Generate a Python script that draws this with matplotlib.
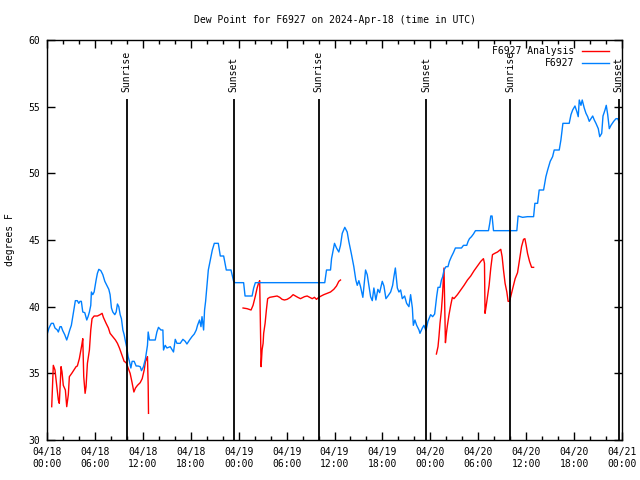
"""
Dew point chart for station F6927, 2024-04-18 .. 2024-04-21 (UTC)
Station observations vs analysis, with sunrise / sunset markers.
"""

import numpy as np
import pandas as pd
import matplotlib
matplotlib.use('Agg')
import matplotlib.pyplot as plt
from matplotlib.lines import Line2D

# font close to the gnuplot default look
plt.rcParams['font.family'] = ['DejaVu Sans Mono']
plt.rcParams['font.size'] = 7

START = pd.Timestamp('2024-04-18 00:00')

# ---- data (hours after 04/18 00:00 UTC, degrees F) ----
# F6927 observations
obs_hours = [
    0.0, 0.25, 0.54, 0.79, 1.0, 1.29, 1.42, 1.63, 1.79, 1.97, 2.22, 2.47, 2.63,
    2.85, 3.05, 3.30, 3.55, 3.80, 3.98, 4.14, 4.30, 4.48, 4.73, 4.98, 5.14, 5.31,
    5.48, 5.56, 5.73, 5.90, 6.15, 6.31, 6.49, 6.74, 6.99, 7.24, 7.49, 7.74, 7.90,
    8.07, 8.24, 8.49, 8.66, 8.82, 8.99, 9.16, 9.32, 9.50, 9.66, 9.82, 10.0, 10.16,
    10.32, 10.50, 10.66, 10.91, 11.16, 11.41, 11.67, 11.83, 12.08, 12.33, 12.58,
    12.67, 12.83, 13.26, 13.55, 13.76, 13.96, 14.26, 14.51, 14.59, 14.80, 15.02,
    15.43, 15.84, 16.06, 16.27, 16.68, 17.02, 17.31, 17.52, 17.85, 18.15, 18.44,
    18.69, 18.85, 19.10, 19.28, 19.41, 19.61, 19.73, 19.86, 20.03, 20.20, 20.45,
    20.70, 20.95, 21.45, 21.70, 22.12, 22.45, 23.04, 23.37, 23.55, 24.62, 24.80,
    25.68, 25.88, 26.09, 34.78, 35.0, 35.50, 35.63, 36.0, 36.25, 36.54, 36.75,
    36.97, 37.29, 37.59, 37.79, 38.10, 38.42, 38.67, 38.85, 39.05, 39.26, 39.55,
    39.89, 40.10, 40.30, 40.52, 40.73, 40.93, 41.18, 41.43, 41.65, 41.98, 42.19,
    42.44, 42.69, 43.03, 43.28, 43.44, 43.62, 43.87, 44.07, 44.28, 44.49, 44.78,
    45.03, 45.32, 45.53, 45.75, 45.87, 46.07, 46.29, 46.58, 46.70, 47.0, 47.20,
    47.45, 47.70, 48.04, 48.29, 48.54, 48.80, 48.96, 49.21, 49.39, 49.55, 49.71,
    49.96, 50.21, 50.39, 50.64, 50.89, 51.14, 51.90, 52.15, 52.56, 52.73, 52.90,
    53.15, 53.40, 53.65, 55.28, 55.44, 55.57, 55.73, 55.91, 58.83, 58.99, 59.55,
    60.17, 60.93, 61.09, 61.43, 61.63, 62.18, 62.47, 62.69, 63.01, 63.31, 63.51,
    64.14, 64.35, 64.60, 65.39, 65.61, 65.82, 66.11, 66.36, 66.52, 66.65, 66.86,
    67.02, 67.27, 67.49, 67.70, 67.90, 68.11, 68.33, 68.53, 68.74, 69.03, 69.21,
    69.46, 69.62, 69.87, 70.03, 70.21, 70.41, 70.62, 70.96, 71.25, 71.47, 71.67,
]
obs_dewpt = [
    37.9, 38.4, 38.75, 38.75, 38.4, 38.25, 38.1, 38.5, 38.5, 38.2, 37.9, 37.5, 37.8,
    38.25, 38.6, 39.5, 40.45, 40.45, 40.25, 40.4, 40.4, 39.6, 39.55, 39.0, 39.25, 39.6,
    40.1, 41.1, 40.9, 41.1, 42.0, 42.5, 42.8, 42.7, 42.4, 41.9, 41.6, 41.3, 40.9,
    39.9, 39.6, 39.4, 39.6, 40.2, 40.0, 39.4, 39.1, 38.25, 37.9, 37.4, 36.9, 36.25,
    35.9, 35.4, 35.9, 35.9, 35.55, 35.55, 35.5, 35.2, 35.5, 36.1, 37.1,
    38.1, 37.5, 37.5, 37.5, 38.1, 38.45, 38.25, 38.25, 36.75, 37.1, 36.9,
    37.0, 36.6, 37.55, 37.25, 37.25, 37.55, 37.4, 37.2, 37.5, 37.75, 37.95,
    38.25, 38.6, 39.0, 38.5, 39.25, 38.25, 39.75, 40.4, 41.6, 42.75, 43.5,
    44.25, 44.75, 44.75, 43.8, 43.8, 42.75, 42.75, 41.9, 41.8, 41.8, 40.8,
    40.8, 41.4, 41.8, 41.8, 42.75, 42.75, 43.6, 44.75, 44.4, 44.1, 44.6,
    45.5, 45.95, 45.6, 44.9, 44.0, 43.0, 42.0, 41.6, 41.95, 41.5, 40.7,
    42.75, 42.4, 41.6, 40.75, 40.45, 41.4, 40.5, 41.3, 41.05, 41.9, 41.55,
    40.6, 40.8, 41.1, 41.6, 42.25, 42.9, 41.4, 41.1, 41.25, 40.6, 40.8,
    40.25, 40.0, 40.9, 39.9, 38.6, 39.0, 38.6, 38.25, 38.0, 38.4, 38.6,
    38.2, 38.9, 39.4, 39.25, 39.45, 40.8, 41.45, 41.45, 42.0, 42.25, 42.75,
    43.0, 43.0, 43.4, 43.75, 44.05, 44.4, 44.4, 44.6, 44.6, 44.9, 45.1,
    45.25, 45.45, 45.7, 45.7, 46.25, 46.8, 46.8, 45.7, 45.7, 46.8, 46.7,
    46.75, 46.75, 47.75, 47.75, 48.75, 48.75, 49.75, 50.25, 50.9, 51.25, 51.75,
    51.75, 52.5, 53.75, 53.75, 54.4, 54.75, 55.05, 54.6, 54.25, 55.5, 55.1,
    55.5, 54.9, 54.5, 54.25, 53.9, 54.1, 54.3, 54.0, 53.75, 53.35, 52.75,
    53.0, 54.3, 54.75, 55.1, 54.4, 53.35, 53.6, 53.9, 54.1, 54.1, 53.8,
]

# F6927 analysis (nan = gap in the series)
ana_hours = [
    0.59, 0.79, 1.0, 1.42, 1.54, 1.76, 1.88, 2.04, 2.30, 2.47, 2.67, 2.80, 3.10,
    3.42, 3.64, 3.80, 4.05, 4.35, 4.48, 4.60, 4.77, 4.89, 5.06, 5.31, 5.48, 5.64,
    5.90, 6.31, 6.65, 6.90, 7.06, 7.40, 7.69, 7.90, 8.24, 8.57, 8.82, 9.07, 9.37,
    9.66, 9.91, 10.16, 10.41, 10.62, 10.88, 11.08, 11.33, 11.67, 11.92, 12.17,
    12.33, 12.51, 12.58, 12.67, 12.71,
    18.0,
    24.55, 25.05, 25.55, 25.80, 26.09, 26.31, 26.51, 26.63, 26.72, 26.81, 26.93,
    27.06, 27.13, 27.31, 27.47, 27.63, 27.89, 28.39, 28.81, 29.14, 29.44, 29.73,
    30.07, 30.48, 30.82, 31.11, 31.40, 31.74, 32.24, 32.58, 32.90, 33.21, 33.49,
    33.74, 34.03, 34.33, 34.66, 35.09, 35.50, 35.91, 36.25, 36.54, 36.75,
    42.0,
    48.76, 48.96, 49.08, 49.21, 49.39, 49.51, 49.64, 49.71, 49.80, 49.89, 50.01,
    50.14, 50.34, 50.55, 50.76, 50.96, 51.39, 51.81, 52.22, 52.65, 53.06, 53.48,
    53.90, 54.32, 54.65, 54.78, 54.85, 54.98, 55.16, 55.36, 55.57, 55.78, 56.07,
    56.41, 56.82, 56.99, 57.16, 57.36, 57.58, 57.74, 57.92, 58.08, 58.33, 58.62,
    58.92, 59.17, 59.42, 59.67, 59.84, 60.0, 60.17, 60.42, 60.68, 60.93,
]
ana_dewpt = [
    32.5, 35.6, 35.25, 33.0, 32.75, 35.5, 35.1, 34.1, 33.75, 32.5, 33.4, 34.75, 35.0,
    35.3, 35.5, 35.55, 36.1, 37.1, 37.6, 34.75, 33.5, 34.0, 35.75, 36.75, 38.25, 39.1,
    39.3, 39.3, 39.4, 39.5, 39.2, 38.75, 38.4, 38.0, 37.75, 37.5, 37.25, 36.9, 36.4,
    35.9, 35.8, 35.4, 35.0, 34.4, 33.6, 33.9, 34.1, 34.3, 34.6, 35.25,
    35.9, 36.1, 36.25, 34.1, 32.0,
    np.nan,
    39.9, 39.85, 39.75, 40.1, 40.8, 41.4, 41.8, 41.95, 38.75, 35.5, 36.75,
    37.25, 38.0, 38.75, 39.75, 40.6, 40.7, 40.75, 40.8, 40.7, 40.55, 40.5,
    40.55, 40.7, 40.9, 40.8, 40.7, 40.6, 40.75, 40.8, 40.7, 40.6, 40.7,
    40.55, 40.7, 40.8, 40.9, 41.0, 41.1, 41.3, 41.55, 41.9, 42.0,
    np.nan,
    36.45, 37.0, 37.75, 38.75, 39.75, 40.75, 42.25, 42.9, 40.0, 37.3, 38.0,
    38.6, 39.4, 40.1, 40.7, 40.6, 40.9, 41.25, 41.6, 42.0, 42.3, 42.7,
    43.05, 43.4, 43.6, 43.25, 39.5, 40.0, 40.75, 41.6, 42.9, 43.9, 44.0,
    44.1, 44.3, 43.75, 42.75, 41.75, 41.1, 40.4, 40.4, 40.8, 41.4, 42.1,
    42.55, 43.5, 44.5, 45.05, 45.1, 44.6, 44.0, 43.4, 42.95, 42.95,
]

# sunrise / sunset times (hours after start)
sun_hours = [9.97, 23.37, 34.03, 47.45, 57.99, 71.59]
sun_labels = ['Sunrise', 'Sunset', 'Sunrise', 'Sunset', 'Sunrise', 'Sunset']

# x tick labels every 6 hours
tick_hours = list(range(0, 73, 6))


def to_time(hours):
    return START + pd.to_timedelta(np.asarray(hours, dtype=float), unit='h')


fig = plt.figure(figsize=(6.4, 4.8), dpi=100)
ax = fig.add_axes([47 / 640, 40 / 480, 575 / 640, 400 / 480])

# series
ax.plot(to_time(ana_hours), ana_dewpt, color='#ff0000', lw=1.0)
ax.plot(to_time(obs_hours), obs_dewpt, color='#0080ff', lw=1.0)

# sunrise / sunset markers
for h, lab in zip(sun_hours, sun_labels):
    t = to_time([h])[0]
    ax.vlines(t, 30, 55.6, color='black', lw=1.3)
    ax.text(t, 56.1, lab, rotation=90, ha='center', va='bottom')

# axes, ticks
ax.set_xlim(START, START + pd.Timedelta(hours=72))
ax.set_ylim(30, 60)
ax.set_xticks(to_time(tick_hours))
ax.set_xticklabels([t.strftime('%m/%d\n%H:%M') for t in to_time(tick_hours)],
                   linespacing=1.3)
ax.set_xticks(to_time(range(0, 73, 2)), minor=True)
ax.set_yticks(range(30, 61, 5))
ax.tick_params(which='both', direction='in', top=True, right=True, width=1)
ax.tick_params(which='major', length=6, pad=5)
ax.tick_params(which='minor', length=3)
for s in ax.spines.values():
    s.set_linewidth(1.0)

# legend drawn by hand: right aligned text, line sample on the right
for i, (lab, col) in enumerate([('F6927 Analysis', '#ff0000'), ('F6927', '#0080ff')]):
    y = 0.973 - i * 0.030
    ax.text(0.9165, y, lab, transform=ax.transAxes, ha='right', va='center')
    ax.add_line(Line2D([0.930, 0.978], [y, y], transform=ax.transAxes,
                       color=col, lw=1.0, clip_on=False))

fig.text(0.5227, 0.958, 'Dew Point for F6927 on 2024-Apr-18 (time in UTC)',
         ha='center', va='center')
fig.text(0.016, 0.5, 'degrees F', rotation=90, ha='center', va='center')

fig.savefig('out.png', dpi=100)
